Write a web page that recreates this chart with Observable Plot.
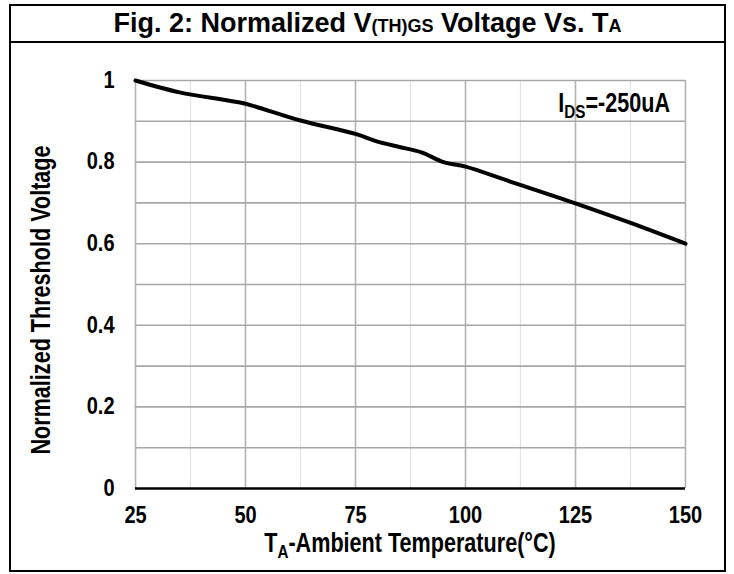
<!DOCTYPE html>
<html>
<head>
<meta charset="utf-8">
<script src="https://cdn.jsdelivr.net/npm/d3@7"></script>
<script src="https://cdn.jsdelivr.net/npm/@observablehq/plot@0.6"></script>
<style>
  html, body { margin: 0; padding: 0; background: #fff; }
  #chart { position: relative; width: 734px; height: 574px; overflow: hidden;
    font-family: "Liberation Sans", Arial, sans-serif; font-weight: bold; }
  #frame { position: absolute; left: 9px; top: 4px; width: 713px; height: 564px; border: 2px solid #000; }
  #titleline { position: absolute; left: 9px; top: 41px; width: 717px; height: 0; border-top: 2px solid #000; }
  #title { position: absolute; left: 9px; top: 6px; width: 717px; text-align: center; font-size: 27px; line-height: 35px; color: #000; }
  #title .sm { font-size: 18px; }
  #plot { position: absolute; left: 0; top: 0; }
</style>
</head>
<body>
<div id="chart">
  <div id="frame"></div>
  <div id="titleline"></div>
  <div id="title">Fig. 2: Normalized V<span class="sm">(TH)GS</span> Voltage Vs. T<span class="sm">A</span></div>
  <div id="plot"></div>
</div>
<script>
// Temperature (°C)
const temperature = [25, 35, 46, 50, 62.5, 75, 80, 85, 90, 95, 100, 110, 125, 138, 150];
// Normalized threshold voltage
const vthNorm = [1.0, 0.971, 0.951, 0.943, 0.902, 0.869, 0.850, 0.837, 0.824, 0.800, 0.789, 0.753, 0.699, 0.649, 0.600];

const xTicks = [25, 50, 75, 100, 125, 150];
const xMinorGrid = [37.5, 62.5, 87.5, 112.5, 137.5];
const yTicks = [0, 0.2, 0.4, 0.6, 0.8, 1];
const yGrid = [0.1, 0.2, 0.3, 0.4, 0.5, 0.6, 0.7, 0.8, 0.9, 1.0];

const xLabel = ["T", "A", "-Ambient Temperature(°C)"];
const yLabel = "Normalized Threshold Voltage";
const annotation = ["I", "DS", "=-250uA"];

const data = temperature.map((t, i) => ({t, v: vthNorm[i]}));
const FONT = '"Liberation Sans", Arial, sans-serif';

const plot = Plot.plot({
  width: 734,
  height: 574,
  marginLeft: 135,
  marginRight: 49,
  marginTop: 80,
  marginBottom: 86,
  style: {fontFamily: FONT, fontWeight: "bold", fontSize: "23px", color: "#000", background: "transparent", overflow: "visible"},
  x: {domain: [25, 150], ticks: xTicks, tickSize: 0, tickPadding: 18, label: null},
  y: {domain: [0, 1], ticks: yTicks, tickSize: 0, tickPadding: 21, label: null, tickFormat: d => String(d)},
  marks: [
    Plot.ruleX(xMinorGrid, {stroke: "#e3e3e3", strokeWidth: 1.2}),
    Plot.ruleX(xTicks, {stroke: "#b3b3b3", strokeWidth: 1.6}),
    Plot.ruleY(yGrid, {stroke: "#a6a6a6", strokeWidth: 1.6}),
    Plot.ruleY([0], {stroke: "#000", strokeWidth: 2.4}),
    Plot.line(data, {x: "t", y: "v", stroke: "#000", strokeWidth: 4, curve: "catmull-rom"})
  ]
});
document.getElementById("plot").appendChild(plot);

const svg = d3.select(plot);

// condense the tick labels horizontally (narrow bold look); only tick labels exist as text at this point
const TICK_SX = 0.87;
const isNum = s => s != null && /^\s*-?[\d.]+\s*$/.test(s);
svg.selectAll("text").each(function () {
  this.setAttribute("fill", "#000");
  const tr = this.getAttribute("transform") || "";
  let shift = "";
  const xa = this.getAttribute("x");
  if (isNum(xa) && +xa !== 0) { shift = ` translate(${+xa},0)`; this.setAttribute("x", 0); }
  const dxa = this.getAttribute("dx");
  if (isNum(dxa) && +dxa !== 0) { shift += ` translate(${+dxa},0)`; this.setAttribute("dx", 0); }
  this.setAttribute("transform", `${tr}${shift} scale(${TICK_SX},1)`);
});

const SX = 0.8;
// x-axis title
const xt = svg.append("text")
  .attr("transform", `translate(410,552) scale(${SX},1)`)
  .attr("text-anchor", "middle")
  .attr("font-family", FONT).attr("font-weight", "bold").attr("font-size", 27).attr("fill", "#000");
xt.append("tspan").text(xLabel[0]);
xt.append("tspan").attr("font-size", 19).attr("dy", 6).text(xLabel[1]);
xt.append("tspan").attr("dy", -6).text(xLabel[2]);

// y-axis title
svg.append("text")
  .attr("transform", `translate(50,300) rotate(-90) scale(${SX},1)`)
  .attr("text-anchor", "middle")
  .attr("font-family", FONT).attr("font-weight", "bold").attr("font-size", 27).attr("fill", "#000")
  .text(yLabel);

// annotation
const an = svg.append("text")
  .attr("transform", `translate(670,112) scale(${SX},1)`)
  .attr("text-anchor", "end")
  .attr("font-family", FONT).attr("font-weight", "bold").attr("font-size", 27).attr("fill", "#000");
an.append("tspan").text(annotation[0]);
an.append("tspan").attr("font-size", 19).attr("dy", 6).text(annotation[1]);
an.append("tspan").attr("dy", -6).text(annotation[2]);
</script>
</body>
</html>
